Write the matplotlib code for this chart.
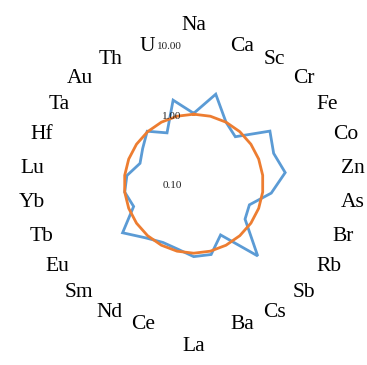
import numpy as np
import matplotlib
matplotlib.use("Agg")
import matplotlib.pyplot as plt
from matplotlib.transforms import ScaledTranslation

categories = ["Na", "Ca", "Sc", "Cr", "Fe", "Co", "Zn", "As", "Br", "Rb", "Sb", "Cs", "Ba",
              "La", "Ce", "Nd", "Sm", "Eu", "Tb", "Yb", "Lu", "Hf", "Ta", "Au", "Th", "U"]
sample = [1.03, 2.12, 1.00, 0.80, 2.15, 1.70, 2.12, 1.33, 0.72, 0.79, 2.45, 0.68, 1.12,
          1.12, 0.93, 0.90, 1.10, 1.75, 0.84, 1.00, 0.93, 0.67, 0.78, 1.02, 0.67, 1.73]
reference = [1.0] * len(categories)
tick_values = [0.1, 1.0, 10.0]
tick_labels = ["0.10", "1.00", "10.00"]

W, H, DPI = 367, 365, 100
fig = plt.figure(figsize=(W / DPI, H / DPI), dpi=DPI)
cx, cy, R = 193.7, 183.7, 139.0
ax = fig.add_axes([(cx - R) / W, (H - cy - R) / H, 2 * R / W, 2 * R / H], projection="polar")
ax.set_theta_offset(np.pi / 2)
ax.set_theta_direction(-1)
ax.set_rscale("log")
ax.set_rlim(0.1, 10)

n = len(categories)
ang = np.linspace(0, 2 * np.pi, n, endpoint=False)
angc = np.append(ang, ang[0])

ax.plot(angc, sample + sample[:1], color="#5B9BD5", lw=2.0, solid_joinstyle="miter")
ax.plot(angc, reference + reference[:1], color="#ED7D31", lw=2.0)

ax.grid(False)
ax.spines["polar"].set_visible(False)
ax.set_xticks([])
ax.set_yticks([], minor=True)
ax.set_yticks([])
ax.patch.set_alpha(0)

serif = "Liberation Serif"
for v, lab in zip(tick_values, tick_labels):
    tr = ax.transData + ScaledTranslation(-12 / DPI, -2 / DPI, fig.dpi_scale_trans)
    ax.text(0, v, lab, transform=tr, ha="right", va="center", fontsize=8,
            family=serif, color="#222222", clip_on=False)

a, b, btop = 147.0, 143.0, 151.0
sy = -2.0
for t, lab in zip(ang, categories):
    s, c = np.sin(t), np.cos(t)
    if abs(s) < 0.05:
        dx, dy = 0.0, btop * np.sign(c)
        ha, va = "center", ("bottom" if c > 0 else "top")
        sx = 0.0
    else:
        dx, dy = a * s, b * c
        ha, va = ("left" if s > 0 else "right"), "center"
        sx = 1.5 if s > 0 else -3.0
    tr = ax.transAxes + ScaledTranslation((dx + sx) / DPI, (dy + sy) / DPI, fig.dpi_scale_trans)
    ax.text(0.5, 0.5, lab, transform=tr, ha=ha, va=va, fontsize=15.5,
            family=serif, color="black", clip_on=False)

fig.savefig("out.png", dpi=DPI)
